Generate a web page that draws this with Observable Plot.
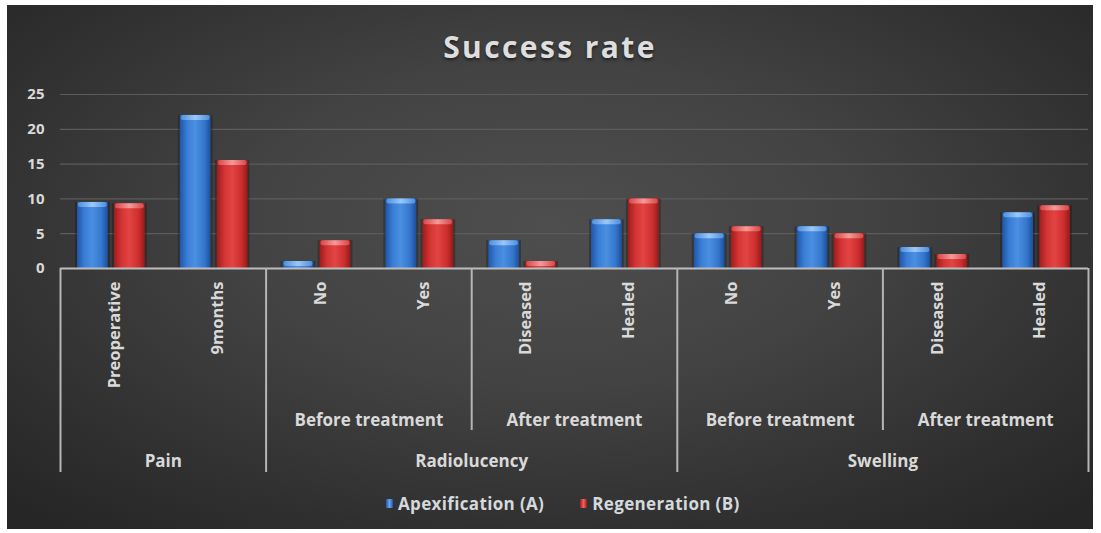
<!DOCTYPE html>
<html>
<head>
<meta charset="utf-8">
<script src="https://cdn.jsdelivr.net/npm/d3@7"></script>
<script src="https://cdn.jsdelivr.net/npm/@observablehq/plot@0.6"></script>
<style>
  html, body { margin: 0; padding: 0; background: #ffffff; width: 1101px; height: 533px; overflow: hidden; }
  #panel {
    position: absolute; left: 7px; top: 5px; width: 1086px; height: 524px;
    background: radial-gradient(ellipse 70% 75% at 50% 42%, #4e4e4e 0%, #434343 40%, #2f2f2f 80%, #262626 100%);
    font-family: "Open Sans", "Noto Sans", sans-serif; color: #d9d9d9;
  }
  #title {
    position: absolute; left: 0; top: 21px; width: 100%; text-align: center;
    font-size: 30px; font-weight: 700; letter-spacing: 2.4px; color: #dedede;
    text-shadow: 0 2px 3px rgba(0,0,0,0.5);
  }
  #chart { position: absolute; left: 0; top: 75px; }
  #legend {
    position: absolute; top: 487px; left: 379px; display: flex; align-items: center; gap: 36px;
    font-size: 17px; font-weight: 700; letter-spacing: 0.35px; color: #d3d9dc;
  }
  #legend .item { display: flex; align-items: center; gap: 5px; }
  #legend .sw { width: 7px; height: 9px; border-radius: 1px; }
</style>
</head>
<body>
<div id="panel">
  <div id="title">Success rate</div>
  <div id="chart"></div>
  <div id="legend"></div>
</div>
<script>
// Ten categories under a two-level grouping (subgroup, then measure)
const categories = ["Preoperative", "9months", "No", "Yes", "Diseased", "Healed", "No", "Yes", "Diseased", "Healed"];
const subgroups  = ["", "", "Before treatment", "Before treatment", "After treatment", "After treatment",
                    "Before treatment", "Before treatment", "After treatment", "After treatment"];
const groups     = ["Pain", "Pain", "Radiolucency", "Radiolucency", "Radiolucency", "Radiolucency",
                    "Swelling", "Swelling", "Swelling", "Swelling"];

const seriesNames   = ["Apexification (A)", "Regeneration (B)"];
const apexification = [9.5, 22, 1, 10, 4, 7, 5, 6, 3, 8];
const regeneration  = [9.3, 15.5, 4, 7, 1, 10, 6, 5, 2, 9];

const yTicks = [0, 5, 10, 15, 20, 25];

const rows = categories.map((c, i) => ({
  i, category: c, sub: subgroups[i], group: groups[i], a: apexification[i], b: regeneration[i]
}));

// Contiguous runs of a key -> {label, start, end}
function runs(keyOf, labelOf) {
  const out = [];
  rows.forEach((r, i) => {
    const k = keyOf(r), last = out[out.length - 1];
    if (last && last.key === k) last.end = i;
    else out.push({key: k, label: labelOf(r), start: i, end: i});
  });
  return out;
}
const groupRuns = runs(r => r.group, r => r.group);
const subRuns = runs(r => r.group + "|" + r.sub, r => r.sub).filter(d => d.label !== "");

const groupEdges = groupRuns.map(d => d.start - 0.5).concat([rows.length - 0.5]);
const groupStarts = new Set(groupRuns.map(d => d.start));
const subEdges = subRuns.filter(d => !groupStarts.has(d.start)).map(d => d.start - 0.5);

// Cylinder-style shading for the two series
const defs = () => {
  const d = d3.create("svg:defs");
  const grad = (id, stops) => {
    const g = d.append("linearGradient").attr("id", id).attr("x1", "0").attr("x2", "1").attr("y1", "0").attr("y2", "0");
    stops.forEach(([o, c]) => g.append("stop").attr("offset", o).attr("stop-color", c));
  };
  grad("gradA", [[0, "#1f55a8"], [0.25, "#3a7fd6"], [0.5, "#4a8fe2"], [0.8, "#3476cc"], [1, "#1d4f9c"]]);
  grad("gradB", [[0, "#9e1c1c"], [0.25, "#d43434"], [0.5, "#e24444"], [0.8, "#cc2e2e"], [1, "#941a1a"]]);
  grad("capA", [[0, "#4f8fdc"], [0.5, "#9cc8f8"], [1, "#4f8fdc"]]);
  grad("capB", [[0, "#d84848"], [0.5, "#f59a9a"], [1, "#d84848"]]);
  return d.node();
};

const textColor = "#d9d9d9";
const font = {fontFamily: "'Open Sans', 'Noto Sans', sans-serif", fontWeight: 700};

const chart = Plot.plot({
  width: 1086,
  height: 400,
  marginTop: 14,
  marginBottom: 212,
  marginLeft: 53,
  marginRight: 5,
  style: {background: "transparent", color: textColor, fontFamily: font.fontFamily},
  x: {type: "linear", domain: [-0.5, rows.length - 0.5], axis: null},
  y: {domain: [0, 25], axis: null},
  marks: [
    defs,
    // horizontal gridlines
    Plot.ruleY(yTicks.filter(t => t > 0), {stroke: "#5c5c5c", strokeWidth: 1.2}),
    // y tick labels
    Plot.axisY(yTicks, {tickSize: 0, tickPadding: 16, fontSize: 15, fontWeight: 700, fill: textColor, label: null}),
    // bar shadows
    Plot.rectY(rows, {x1: d => d.i - 0.5, x2: d => d.i + 0.5, y: "a", insetLeft: 15, insetRight: 53, fill: "#151515", fillOpacity: 0.35}),
    Plot.rectY(rows, {x1: d => d.i - 0.5, x2: d => d.i + 0.5, y: "b", insetLeft: 52, insetRight: 16, fill: "#151515", fillOpacity: 0.35}),
    // bars
    Plot.rectY(rows, {x1: d => d.i - 0.5, x2: d => d.i + 0.5, y: "a", insetLeft: 17, insetRight: 55, fill: "url(#gradA)", title: d => `${seriesNames[0]}: ${d.a}`}),
    Plot.rectY(rows, {x1: d => d.i - 0.5, x2: d => d.i + 0.5, y: "b", insetLeft: 54, insetRight: 18, fill: "url(#gradB)", title: d => `${seriesNames[1]}: ${d.b}`}),
    // top highlights
    Plot.rect(rows, {x1: d => d.i - 0.5, x2: d => d.i + 0.5, y1: "a", y2: "a", insetLeft: 18, insetRight: 56, insetBottom: -5, insetTop: 0, rx: 2, fill: "url(#capA)"}),
    Plot.rect(rows, {x1: d => d.i - 0.5, x2: d => d.i + 0.5, y1: "b", y2: "b", insetLeft: 55, insetRight: 19, insetBottom: -5, insetTop: 0, rx: 2, fill: "url(#capB)"}),
    // category axis baseline
    Plot.ruleY([0], {stroke: "#bdbdbd", strokeWidth: 2}),
    // group and subgroup dividers below the axis
    Plot.ruleX(groupEdges, {x: d => d, y1: 0, y2: 0, insetBottom: -204, stroke: "#b5b5b5", strokeWidth: 2}),
    Plot.ruleX(subEdges, {x: d => d, y1: 0, y2: 0, insetBottom: -162, stroke: "#b5b5b5", strokeWidth: 2}),
    // category labels
    Plot.text(rows, {x: "i", y: 0, text: "category", rotate: -90, textAnchor: "end", dx: 3, dy: 13,
      fontSize: 16.5, fill: textColor, ...font}),
    // subgroup labels
    Plot.text(subRuns, {x: d => (d.start + d.end) / 2, y: 0, text: "label", dy: 152,
      fontSize: 17, fill: textColor, ...font}),
    // group labels
    Plot.text(groupRuns, {x: d => (d.start + d.end) / 2, y: 0, text: "label", dy: 193,
      fontSize: 17, fill: textColor, ...font})
  ]
});
document.getElementById("chart").appendChild(chart);

// Legend
const swatches = ["linear-gradient(90deg,#1f55a8,#6aa6ee,#1f55a8)", "linear-gradient(90deg,#9e1c1c,#f06060,#9e1c1c)"];
const legend = d3.select("#legend");
seriesNames.forEach((name, k) => {
  const item = legend.append("div").attr("class", "item");
  item.append("div").attr("class", "sw").style("background", swatches[k]);
  item.append("span").text(name);
});
</script>
</body>
</html>
